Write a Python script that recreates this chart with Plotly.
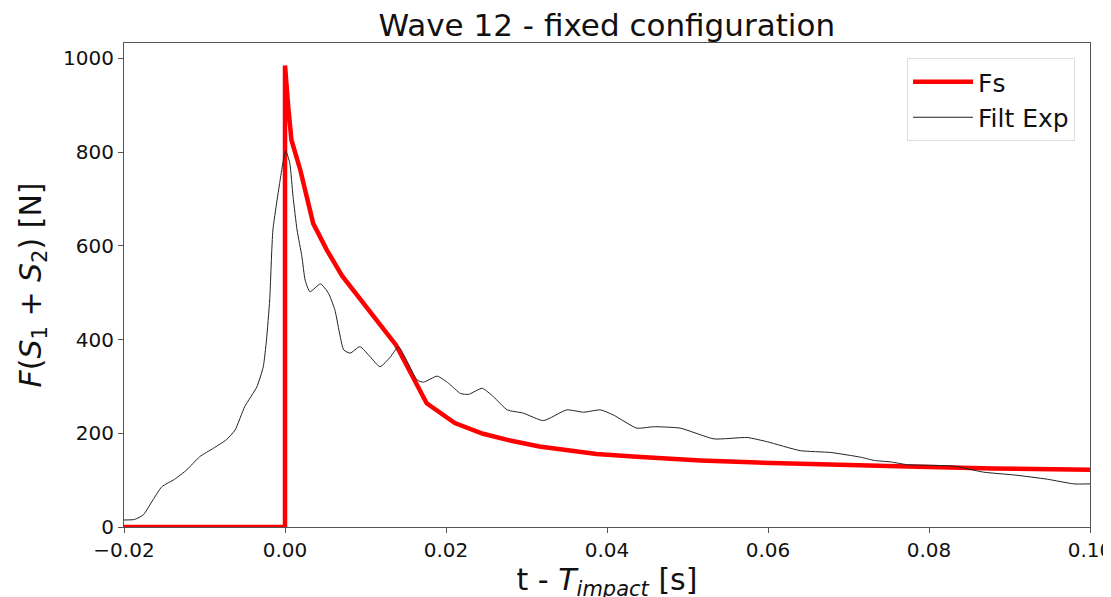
import plotly.graph_objects as go

# Fs (model)
fs_t = [-0.02, 0.0, 0.0, 0.0002, 0.0004, 0.0008, 0.0019, 0.0035, 0.0052, 0.0071,
        0.0106, 0.0138, 0.0176, 0.0211, 0.0246, 0.0281, 0.0316, 0.0352, 0.0387,
        0.0437, 0.0475, 0.0516, 0.0579, 0.065, 0.0773, 0.088, 0.1]
fs_f = [0, 0, 985, 935, 897, 826, 762, 648, 591, 536,
        460, 388, 264, 222, 199, 184, 172, 163, 156,
        150, 146, 142, 138, 134, 129, 125, 122]

# filtered experiment
exp_t = [-0.02, -0.0187, -0.0176, -0.0164, -0.0153, -0.0137, -0.0122, -0.0106,
         -0.0089, -0.0073, -0.0062, -0.0050, -0.0035, -0.0027, -0.0023, -0.0019,
         -0.0015, -0.0006, -0.0002, 0.0001, 0.0006, 0.0010, 0.0015, 0.0021, 0.0025,
         0.0031, 0.0044, 0.0054, 0.0062, 0.0073, 0.0081, 0.0093, 0.0106, 0.0118,
         0.0131, 0.0141, 0.0151, 0.0164, 0.0172, 0.0189, 0.0203, 0.0218, 0.0228,
         0.0245, 0.0259, 0.0276, 0.0296, 0.0321, 0.0350, 0.0371, 0.0392, 0.0408,
         0.0437, 0.0458, 0.0491, 0.0533, 0.0574, 0.0599, 0.0640, 0.0678, 0.0715,
         0.0732, 0.0752, 0.0773, 0.0831, 0.0868, 0.0906, 0.0947, 0.0980, 0.1]
exp_f = [15, 16, 26, 58, 86, 102, 122, 150,
         168, 186, 207, 257, 299, 342, 399, 485,
         634, 741, 783, 803, 776, 705, 634, 577, 527,
         502, 519, 499, 463, 378, 371, 385, 363, 342,
         363, 385, 356, 314, 309, 322, 307, 285, 283,
         296, 278, 250, 243, 227, 250, 245, 250, 239,
         211, 214, 211, 188, 191, 182, 163, 159, 149,
         142, 139, 133, 130, 117, 111, 102, 92, 92]

x_ticks = [-0.02, 0.0, 0.02, 0.04, 0.06, 0.08, 0.10]
x_labels = ["\u22120.02", "0.00", "0.02", "0.04", "0.06", "0.08", "0.10"]
y_ticks = [0, 200, 400, 600, 800, 1000]

fig = go.Figure()
fig.add_trace(go.Scatter(x=fs_t, y=fs_f, mode="lines", name="Fs",
                         line=dict(color="#ff0000", width=4.5)))
fig.add_trace(go.Scatter(x=exp_t, y=exp_f, mode="lines", name="Filt Exp",
                         line=dict(color="#222222", width=1, shape="spline", smoothing=0.5)))

axis_common = dict(showline=True, linecolor="#555555", linewidth=1, mirror=True,
                   ticks="outside", ticklen=5, tickcolor="#555555",
                   showgrid=False, zeroline=False, ticklabeloverflow="allow",
                   automargin=False,
                   tickfont=dict(size=20, color="#111111"))

fig.update_layout(
    width=1111, height=597,
    paper_bgcolor="white", plot_bgcolor="white",
    font=dict(family="DejaVu Sans", color="#111111"),
    margin=dict(l=116, r=29, t=35, b=78),
    title=dict(text="Wave 12 - fixed configuration", x=0.539, xanchor="center",
               y=0.971, yanchor="middle", font=dict(size=31)),
    xaxis=dict(range=[-0.02, 0.10], tickvals=x_ticks, ticktext=x_labels,
               title=dict(text="t - <i>T</i><sub><i>impact</i></sub> [s]",
                          font=dict(size=30), standoff=2),
               **axis_common),
    yaxis=dict(range=[0, 1033], tickvals=y_ticks,
               title=dict(text="<i>F</i>(<i>S</i><sub>1</sub> + <i>S</i><sub>2</sub>) [N]",
                          font=dict(size=30), standoff=12),
               **axis_common),
    legend=dict(x=0.9845, y=0.969, xanchor="right", yanchor="top",
                bgcolor="white", bordercolor="#dddddd", borderwidth=1,
                font=dict(size=25), itemwidth=60, tracegroupgap=2),
    showlegend=True,
)

fig.write_html("out.html")
